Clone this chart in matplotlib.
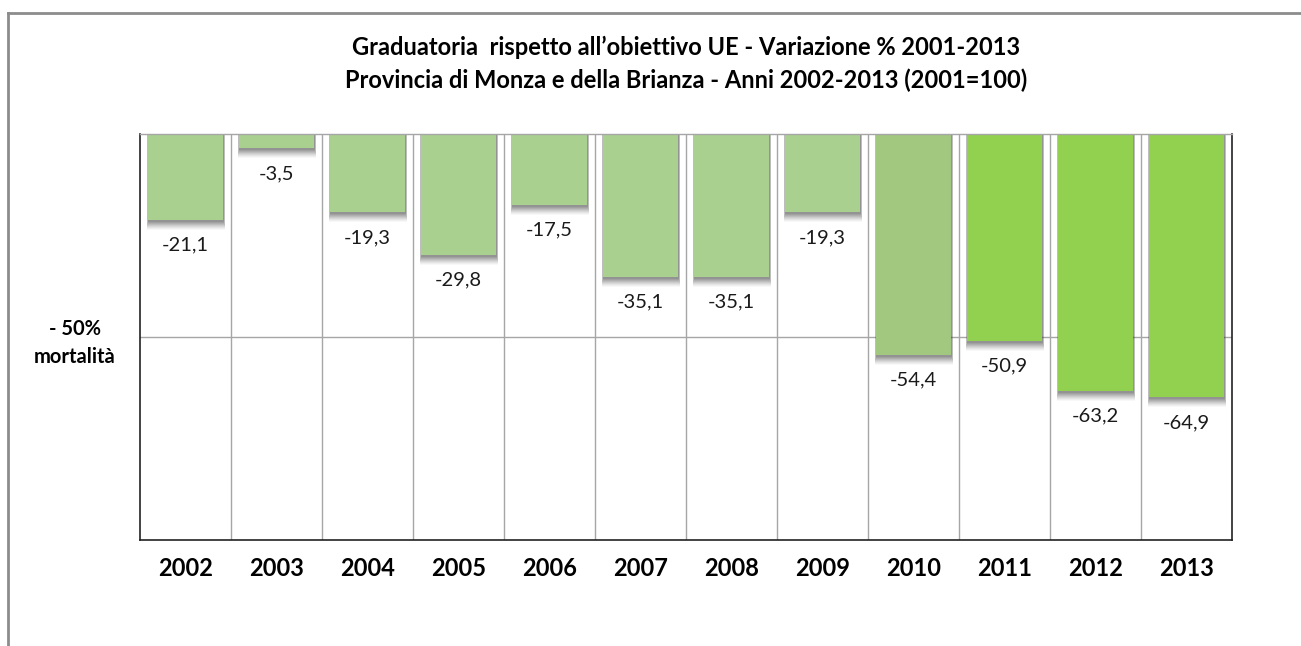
import matplotlib
matplotlib.use("Agg")
import matplotlib.pyplot as plt
from matplotlib.lines import Line2D
import numpy as np

years = ["2002", "2003", "2004", "2005", "2006", "2007", "2008", "2009", "2010", "2011", "2012", "2013"]
values = [-21.1, -3.5, -19.3, -29.8, -17.5, -35.1, -35.1, -19.3, -54.4, -50.9, -63.2, -64.9]
bar_colors = ["#a9d08e"] * 8 + ["#a2c77f"] + ["#92d050"] * 3
title_lines = ["Graduatoria  rispetto all\u2019obiettivo UE - Variazione % 2001-2013",
               "Provincia di Monza e della Brianza - Anni 2002-2013 (2001=100)"]
target_label = "- 50%\nmortalità"

plt.rcParams['font.family'] = ['Lato', 'DejaVu Sans']

W, H = 1301, 646
fig = plt.figure(figsize=(W / 100, H / 100), dpi=100)
ax = fig.add_axes([140 / W, 1 - 540 / H, (1232 - 140) / W, (540 - 134) / H])

x = np.arange(len(years))
ax.set_xlim(-0.5, len(years) - 0.5)
ax.set_ylim(-100, 0)

# grid lines
for b in np.arange(0.5, len(years) - 0.5, 1):
    ax.axvline(b, color="#a6a6a6", lw=1, zorder=0)
ax.axhline(-50, color="#a6a6a6", lw=1, zorder=0)

# shadows (soft, below bars)
px = 100 / 406.0
width = 0.83
steps = np.arange(10, 1, -1)
for k in steps:
    dw = 0.0035 * k
    a = 0.035 + 0.012 * (10 - k)
    ax.bar(x + 0.006, [v - k * px for v in values], width=width + dw, color="#3c3c3c",
           alpha=a, zorder=1, linewidth=0)

ax.bar(x, values, width=width, color=bar_colors, zorder=2, linewidth=0)

for xi, v in zip(x, values):
    ax.annotate(f"{v:.1f}".replace(".", ","), (xi, v), xytext=(0, -12),
                textcoords="offset points", ha="center", va="top",
                fontsize=14.5, color="#1a1a1a", zorder=3)

ax.set_yticks([])
ax.set_xticks(x)
ax.set_xticklabels(years, fontsize=17, fontweight="bold")
ax.tick_params(axis="x", length=0, pad=12)

for s in ["left", "bottom", "right"]:
    ax.spines[s].set_color("#222222")
    ax.spines[s].set_linewidth(1.2)
ax.spines["top"].set_color("#a6a6a6")
ax.spines["top"].set_linewidth(1)

fig.text(686 / W, 1 - 47 / H, title_lines[0], ha="center", va="center",
         fontsize=17, fontweight="bold")
fig.text(686 / W, 1 - 80 / H, title_lines[1], ha="center", va="center",
         fontsize=17, fontweight="bold")
fig.text(75 / W, 1 - 343 / H, target_label, ha="center", va="center",
         fontsize=14.5, fontweight="bold", linespacing=1.55)

# outer frame (partially visible)
fig.add_artist(Line2D([8 / W, 1.0], [1 - 13 / H, 1 - 13 / H], transform=fig.transFigure,
                      color="#8c8c8c", lw=2))
fig.add_artist(Line2D([8 / W, 8 / W], [0, 1 - 13 / H], transform=fig.transFigure,
                      color="#8c8c8c", lw=2))

fig.savefig("out.png", dpi=100, facecolor="white")
